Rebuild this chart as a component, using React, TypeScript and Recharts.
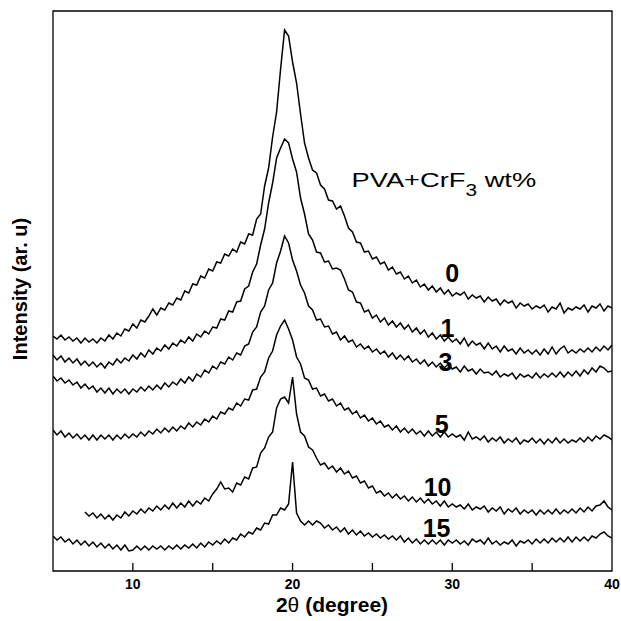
import React from 'react';
import { LineChart, Line, XAxis, YAxis, ReferenceArea, ReferenceDot } from 'recharts';

// 2θ grid (degree)
const twoTheta = [
  5, 5.25, 5.5, 5.75, 6, 6.25, 6.5, 6.75, 7, 7.25, 7.5, 7.75, 8, 8.25, 8.5, 8.75, 9, 9.25, 9.5, 9.75,
  10, 10.25, 10.5, 10.75, 11, 11.25, 11.5, 11.75, 12, 12.25, 12.5, 12.75, 13, 13.25, 13.5, 13.75, 14, 14.25, 14.5, 14.75,
  15, 15.25, 15.5, 15.75, 16, 16.25, 16.5, 16.75, 17, 17.25, 17.5, 17.75, 18, 18.25, 18.5, 18.75, 19, 19.25, 19.5, 19.75,
  20, 20.25, 20.5, 20.75, 21, 21.25, 21.5, 21.75, 22, 22.25, 22.5, 22.75, 23, 23.25, 23.5, 23.75, 24, 24.25, 24.5, 24.75,
  25, 25.25, 25.5, 25.75, 26, 26.25, 26.5, 26.75, 27, 27.25, 27.5, 27.75, 28, 28.25, 28.5, 28.75, 29, 29.25, 29.5, 29.75,
  30, 30.25, 30.5, 30.75, 31, 31.25, 31.5, 31.75, 32, 32.25, 32.5, 32.75, 33, 33.25, 33.5, 33.75, 34, 34.25, 34.5, 34.75,
  35, 35.25, 35.5, 35.75, 36, 36.25, 36.5, 36.75, 37, 37.25, 37.5, 37.75, 38, 38.25, 38.5, 38.75, 39, 39.25, 39.5, 39.75,
  40,
];

// Intensity (ar. u), stacked traces
const pva0 = [
  235, 232, 236, 231, 234, 230, 233, 228, 233, 229, 232, 228, 233, 230, 236, 232, 238, 235, 242, 240,
  247, 243, 251, 249, 255, 262, 256, 263, 261, 268, 266, 273, 271, 280, 278, 287, 286, 295, 293, 302,
  300, 309, 308, 317, 315, 322, 319, 329, 327, 337, 336, 352, 357, 385, 403, 434, 459, 502, 541, 535,
  509, 488, 457, 428, 413, 401, 398, 386, 382, 371, 370, 362, 365, 355, 343, 339, 329, 328, 319, 320,
  312, 314, 307, 309, 301, 304, 297, 299, 292, 295, 288, 291, 284, 287, 281, 285, 279, 283, 277, 281,
  275, 278, 276, 279, 272, 276, 273, 275, 269, 274, 270, 272, 266, 271, 268, 270, 263, 268, 265, 267,
  262, 265, 263, 266, 259, 264, 262, 268, 258, 263, 261, 264, 262, 266, 259, 265, 263, 267, 260, 265,
  263,
];
const pva1 = [
  216, 211, 215, 209, 213, 208, 212, 206, 210, 205, 209, 204, 208, 203, 209, 206, 212, 208, 213, 210,
  216, 212, 218, 214, 221, 217, 223, 220, 226, 222, 228, 225, 231, 228, 234, 230, 237, 234, 240, 237,
  244, 243, 252, 251, 260, 259, 269, 270, 282, 285, 299, 307, 326, 342, 368, 388, 413, 423, 432, 428,
  412, 399, 373, 357, 337, 331, 319, 318, 309, 310, 302, 303, 301, 292, 281, 279, 269, 268, 259, 261,
  253, 256, 249, 253, 246, 250, 244, 248, 242, 246, 239, 243, 237, 241, 234, 238, 232, 236, 230, 234,
  229, 232, 227, 233, 225, 230, 226, 228, 222, 228, 222, 225, 219, 225, 220, 222, 217, 223, 218, 221,
  217, 221, 216, 222, 217, 224, 217, 222, 225, 218, 221, 218, 222, 219, 223, 219, 224, 220, 225, 221,
  226,
];
const pva3 = [
  195, 190, 193, 188, 191, 186, 189, 183, 187, 182, 185, 179, 183, 178, 183, 177, 182, 178, 182, 177,
  182, 179, 184, 180, 185, 181, 186, 182, 188, 184, 189, 186, 192, 188, 194, 190, 197, 194, 201, 198,
  205, 202, 209, 207, 214, 211, 218, 216, 225, 227, 239, 244, 259, 265, 281, 288, 308, 320, 335, 328,
  311, 300, 286, 278, 265, 261, 251, 252, 244, 245, 237, 239, 231, 235, 229, 231, 224, 227, 222, 225,
  219, 222, 217, 220, 214, 218, 212, 216, 211, 215, 209, 212, 207, 211, 205, 209, 204, 208, 203, 207,
  202, 204, 199, 205, 200, 202, 197, 202, 198, 199, 196, 200, 194, 197, 195, 198, 192, 197, 194, 196,
  193, 198, 193, 197, 194, 198, 194, 199, 194, 199, 195, 200, 195, 201, 197, 203, 199, 205, 203, 199,
  200,
];
const pva5 = [
  141, 136, 140, 134, 138, 133, 137, 132, 136, 131, 136, 131, 136, 132, 136, 131, 136, 132, 137, 133,
  137, 134, 139, 135, 140, 137, 142, 138, 143, 139, 144, 140, 145, 142, 148, 144, 149, 146, 152, 149,
  155, 152, 159, 157, 163, 161, 168, 165, 172, 171, 181, 182, 194, 199, 213, 220, 236, 245, 251, 242,
  231, 214, 207, 193, 191, 182, 183, 175, 177, 170, 172, 165, 168, 161, 163, 157, 160, 153, 156, 150,
  153, 147, 150, 144, 146, 141, 145, 139, 143, 138, 142, 137, 140, 135, 140, 135, 139, 134, 139, 134,
  137, 134, 136, 131, 139, 132, 134, 131, 135, 129, 133, 130, 134, 128, 132, 129, 133, 127, 131, 129,
  133, 128, 132, 127, 132, 128, 133, 128, 132, 128, 131, 129, 133, 129, 134, 130, 135, 132, 136, 134,
  131,
];
const pva10 = [
  null, null, null, null, null, null, null, null, 59, 55, 58, 53, 57, 52, 56, 51, 56, 53, 59, 55,
  60, 57, 62, 58, 63, 60, 65, 61, 66, 62, 68, 63, 68, 64, 70, 65, 70, 67, 73, 70,
  77, 82, 89, 82, 83, 79, 88, 86, 94, 92, 103, 104, 118, 123, 134, 139, 163, 172, 174, 168,
  194, 157, 139, 135, 124, 121, 113, 106, 108, 102, 105, 99, 103, 97, 100, 93, 95, 88, 90, 83,
  85, 78, 80, 75, 78, 73, 77, 72, 75, 70, 74, 69, 73, 68, 72, 67, 70, 65, 70, 64,
  67, 64, 66, 62, 67, 61, 64, 62, 65, 59, 63, 60, 64, 57, 62, 59, 63, 57, 61, 58,
  61, 56, 61, 57, 61, 57, 62, 57, 61, 58, 62, 58, 63, 59, 64, 60, 65, 66, 70, 64,
  61,
];
const pva15 = [
  35, 31, 34, 29, 32, 27, 31, 26, 30, 25, 29, 24, 28, 23, 27, 22, 26, 21, 26, 20,
  21, 25, 21, 25, 21, 25, 22, 25, 21, 25, 22, 26, 22, 26, 23, 27, 23, 28, 24, 29,
  26, 30, 27, 32, 28, 33, 31, 37, 34, 39, 37, 43, 41, 48, 47, 56, 56, 63, 61, 67,
  109, 58, 50, 46, 50, 46, 50, 48, 43, 46, 41, 44, 39, 43, 37, 41, 36, 40, 35, 38,
  34, 37, 33, 36, 32, 35, 31, 35, 29, 33, 28, 32, 27, 31, 27, 31, 27, 31, 26, 31,
  28, 31, 27, 30, 26, 32, 29, 31, 27, 33, 27, 30, 26, 29, 27, 31, 25, 30, 28, 31,
  27, 32, 28, 32, 28, 33, 29, 33, 29, 34, 29, 34, 30, 34, 30, 35, 33, 37, 39, 35,
  33,
];

const xTicks = [10, 15, 20, 25, 30, 35, 40];

// curve labels: text, 2θ position, intensity (baseline)
const curveLabelText = ['0', '1', '3', '5', '10', '15'];
const curveLabelX = [30.0, 29.7, 29.58, 29.33, 29.08, 29.02];
const curveLabelY = [289, 234, 200, 138, 75, 34];

const FONT = "'Liberation Sans', Arial, Helvetica, sans-serif";

const data = twoTheta.map((x, i) => ({
  x,
  s0: pva0[i],
  s1: pva1[i],
  s3: pva3[i],
  s5: pva5[i],
  s10: pva10[i],
  s15: pva15[i],
}));

const seriesKeys = ['s0', 's1', 's3', 's5', 's10', 's15'];

const XTick = (props: any) => {
  const { x, y, payload } = props;
  const v = payload.value;
  return (
    <g>
      {v < 40 && <line x1={x} x2={x} y1={y} y2={y - 8} stroke="#000" strokeWidth={1.3} />}
      {v % 10 === 0 && (
        <text x={x} y={y + 18} textAnchor="middle" fontSize={14} fontWeight="bold" fontFamily={FONT} fill="#000">
          {v}
        </text>
      )}
    </g>
  );
};

export default function App() {
  return (
    <div style={{ position: 'absolute', left: 0, top: 0, width: 621, height: 621, background: '#fff' }}>
      <LineChart width={621} height={621} data={data} margin={{ top: 11, right: 9, bottom: 20, left: 53 }}>
        <XAxis
          dataKey="x"
          type="number"
          domain={[5, 40]}
          ticks={xTicks}
          interval={0}
          height={30}
          tickSize={0}
          tickMargin={0}
          axisLine={false}
          tickLine={false}
          tick={<XTick />}
          allowDataOverflow
        />
        <YAxis hide type="number" domain={[0, 560]} allowDataOverflow />
        {seriesKeys.map((k) => (
          <Line
            key={k}
            dataKey={k}
            type="linear"
            stroke="#000"
            strokeWidth={1.5}
            dot={false}
            activeDot={false}
            isAnimationActive={false}
            connectNulls={false}
          />
        ))}
        <ReferenceArea x1={5} x2={40} y1={0} y2={560} fill="none" stroke="#000" strokeWidth={1.3} />
        {curveLabelText.map((t, i) => (
          <ReferenceDot
            key={t}
            x={curveLabelX[i]}
            y={curveLabelY[i]}
            r={0}
            shape={(p: any) => (
              <text x={p.cx} y={p.cy} textAnchor="middle" fontSize={25} fontWeight="bold" fontFamily={FONT} fill="#000">
                {t}
              </text>
            )}
          />
        ))}
        <ReferenceDot
          x={23.69}
          y={384}
          r={0}
          shape={(p: any) => (
            <text transform={`translate(${p.cx},${p.cy}) scale(1.3,1)`} fontSize={21} fontFamily={FONT} fill="#000">
              PVA+CrF
              <tspan dy={9} fontSize={16}>3</tspan>
              <tspan dy={-9}> wt%</tspan>
            </text>
          )}
        />
      </LineChart>
      <svg width={621} height={621} style={{ position: 'absolute', left: 0, top: 0, pointerEvents: 'none' }}>
        <text transform="translate(27,289) rotate(-90)" textAnchor="middle" fontSize={20} fontWeight="bold" fontFamily={FONT} fill="#000">
          Intensity (ar. u)
        </text>
        <text x={332} y={612} textAnchor="middle" fontSize={21} fontWeight="bold" fontFamily={FONT} fill="#000">
          2<tspan fontWeight="normal">θ</tspan>
          <tspan dx={6}>(degree)</tspan>
        </text>
      </svg>
    </div>
  );
}
